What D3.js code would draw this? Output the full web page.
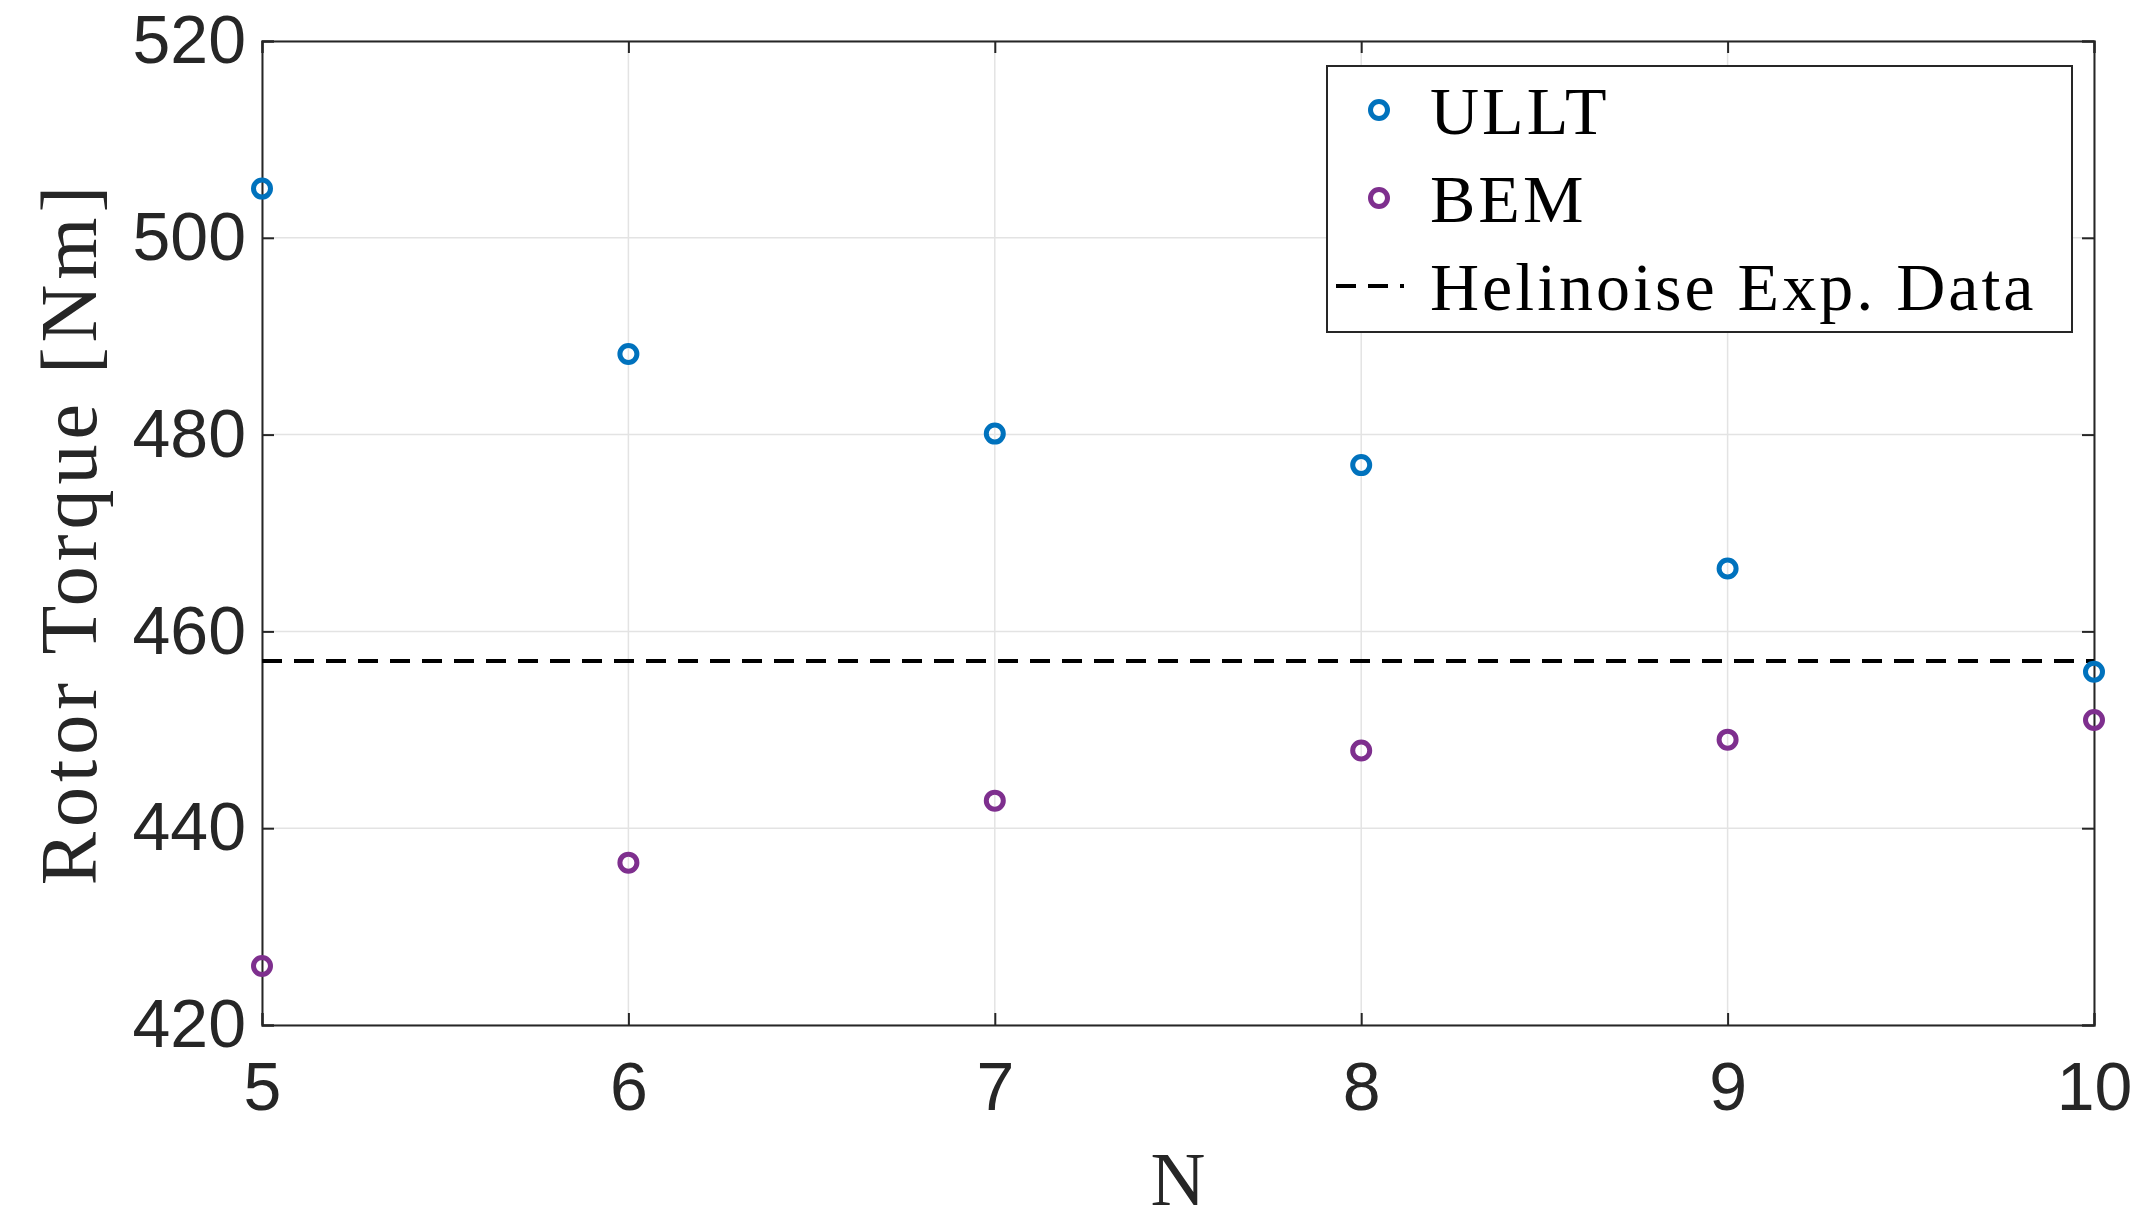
<!DOCTYPE html>
<html><head><meta charset="utf-8">
<script src="https://cdn.jsdelivr.net/npm/d3@7"></script>
<style>body{margin:0;background:#fff}</style>
</head><body>
<svg id="chart" width="2149" height="1222"></svg>
<script>
var nValues = [5, 6, 7, 8, 9, 10];
var ulltTorque = [505.0, 488.2, 480.1, 476.9, 466.4, 455.9];
var bemTorque = [426.0, 436.5, 442.8, 447.9, 449.0, 451.0];
var expTorque = 457;
var yTicks = [420, 440, 460, 480, 500, 520];

var svg = d3.select('#chart');
var m = {l: 262, r: 2094, t: 41, b: 1025};
var x = d3.scaleLinear().domain([5, 10]).range([m.l, m.r]);
var y = d3.scaleLinear().domain([420, 520]).range([m.b, m.t]);

// grid
svg.append('g').selectAll('line').data(nValues).join('line')
    .attr('x1', d => x(d)).attr('x2', d => x(d)).attr('y1', m.t).attr('y2', m.b)
    .attr('stroke', '#e3e3e3').attr('stroke-width', 1.5);
svg.append('g').selectAll('line').data(yTicks).join('line')
    .attr('x1', m.l).attr('x2', m.r).attr('y1', d => y(d)).attr('y2', d => y(d))
    .attr('stroke', '#e3e3e3').attr('stroke-width', 1.5);

// axes
var fmt = d3.format('d');
var xAxis = svg.append('g').attr('transform', 'translate(0,' + m.b + ')')
    .call(d3.axisBottom(x).tickValues(nValues).tickFormat(fmt).tickSize(-12).tickPadding(36));
var yAxis = svg.append('g').attr('transform', 'translate(' + m.l + ',0)')
    .call(d3.axisLeft(y).tickValues(yTicks).tickFormat(fmt).tickSize(-12).tickPadding(16));
svg.append('g').attr('transform', 'translate(0,' + m.t + ')')
    .call(d3.axisTop(x).tickValues(nValues).tickSize(-12).tickFormat(''));
svg.append('g').attr('transform', 'translate(' + m.r + ',0)')
    .call(d3.axisRight(y).tickValues(yTicks).tickSize(-12).tickFormat(''));
svg.selectAll('.domain').attr('stroke', '#262626').attr('stroke-width', 2);
svg.selectAll('.tick line').attr('stroke', '#262626').attr('stroke-width', 2);
svg.selectAll('.tick text').attr('font-family', 'Liberation Sans, Arial, sans-serif')
    .attr('font-size', 68).attr('fill', '#262626');
xAxis.selectAll('.tick text').attr('dy', '0.72em');

// labels
svg.append('text').attr('x', (m.l + m.r) / 2).attr('y', 1205).attr('text-anchor', 'middle')
    .attr('font-family', 'Liberation Serif, serif').attr('font-size', 76).attr('fill', '#262626').text('N');
svg.append('text').attr('transform', 'translate(96,' + (m.t + m.b) / 2 + ') rotate(-90)')
    .attr('text-anchor', 'middle').attr('font-family', 'Liberation Serif, serif')
    .attr('font-size', 80).attr('letter-spacing', 5).attr('fill', '#262626').text('Rotor Torque [Nm]');

// experimental line
svg.append('line').attr('x1', m.l).attr('x2', m.r).attr('y1', y(expTorque)).attr('y2', y(expTorque))
    .attr('stroke', '#000').attr('stroke-width', 4).attr('stroke-dasharray', '20,12');

// markers
function drawPoints(vals, color) {
    svg.append('g').selectAll('circle').data(vals).join('circle')
        .attr('cx', (d, i) => x(nValues[i])).attr('cy', d => y(d)).attr('r', 8.5)
        .attr('fill', 'none').attr('stroke', color).attr('stroke-width', 5);
}
drawPoints(ulltTorque, '#0072BD');
drawPoints(bemTorque, '#7E2F8E');

// legend
var lg = svg.append('g');
lg.append('rect').attr('x', 1327).attr('y', 66).attr('width', 745).attr('height', 266)
    .attr('fill', '#fff').attr('stroke', '#262626').attr('stroke-width', 2);
var items = [
    {label: 'ULLT', color: '#0072BD', type: 'c'},
    {label: 'BEM', color: '#7E2F8E', type: 'c'},
    {label: 'Helinoise Exp. Data', color: '#000', type: 'l'}
];
items.forEach((it, i) => {
    var cy = 110 + i * 88;
    if (it.type === 'c') {
        lg.append('circle').attr('cx', 1379).attr('cy', cy).attr('r', 8.5)
            .attr('fill', 'none').attr('stroke', it.color).attr('stroke-width', 5);
    } else {
        lg.append('line').attr('x1', 1336).attr('x2', 1404).attr('y1', cy).attr('y2', cy)
            .attr('stroke', '#000').attr('stroke-width', 4).attr('stroke-dasharray', '20,12');
    }
    lg.append('text').attr('x', 1430).attr('y', cy).attr('dy', '0.35em')
        .attr('font-family', 'Liberation Serif, serif').attr('font-size', 68)
        .attr('letter-spacing', 3).attr('fill', '#000')
        .text(it.label);
});
</script>
</body></html>
